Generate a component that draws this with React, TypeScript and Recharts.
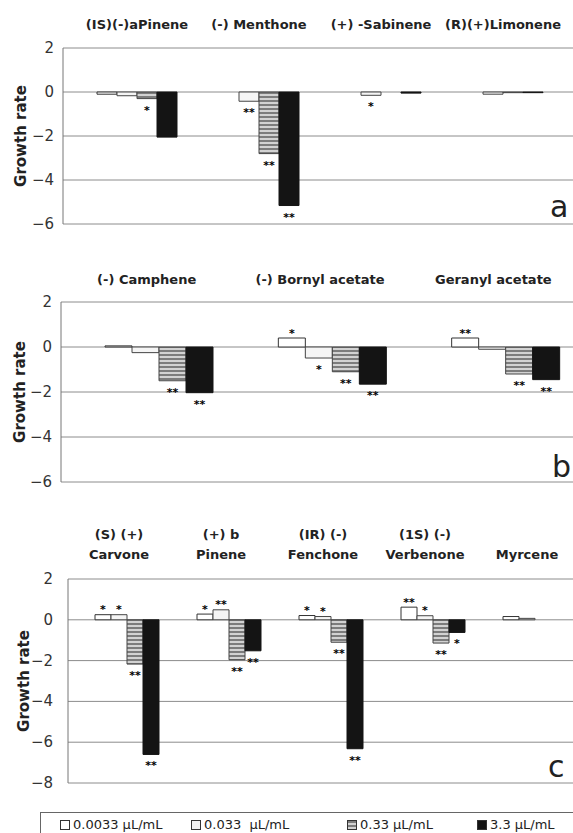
import React from 'react';
import { BarChart, Bar, XAxis, YAxis, CartesianGrid, LabelList } from 'recharts';

const seriesKeys = ['c1', 'c2', 'c3', 'c4'];
const seriesNames = ['0.0033 µL/mL', '0.033  µL/mL', '0.33 µL/mL', '3.3 µL/mL'];

// panel a
const catsA = ['(IS)(-)aPinene', '(-) Menthone', '(+) -Sabinene', '(R)(+)Limonene'];
const valsA1 = [-0.1, 0, 0, 0];
const valsA2 = [-0.17, -0.42, -0.15, -0.1];
const valsA3 = [-0.3, -2.8, 0, -0.03];
const valsA4 = [-2.05, -5.16, -0.05, -0.03];
const starsA1 = ['', '', '', ''];
const starsA2 = ['', '**', '*', ''];
const starsA3 = ['*', '**', '', ''];
const starsA4 = ['', '**', '', ''];

// panel b
const catsB = ['(-) Camphene', '(-) Bornyl acetate', 'Geranyl acetate'];
const valsB1 = [0.05, 0.4, 0.4];
const valsB2 = [-0.25, -0.49, -0.1];
const valsB3 = [-1.5, -1.1, -1.2];
const valsB4 = [-2.03, -1.65, -1.45];
const starsB1 = ['', '*', '**'];
const starsB2 = ['', '*', ''];
const starsB3 = ['**', '**', '**'];
const starsB4 = ['**', '**', '**'];

// panel c
const catsC = ['(S) (+)\nCarvone', '(+) b\nPinene', '(IR) (-)\nFenchone', '(1S) (-)\nVerbenone', '\nMyrcene'];
const valsC1 = [0.25, 0.28, 0.21, 0.62, 0.16];
const valsC2 = [0.25, 0.49, 0.16, 0.2, 0.07];
const valsC3 = [-2.17, -1.96, -1.1, -1.14, 0];
const valsC4 = [-6.6, -1.52, -6.32, -0.62, 0];
const starsC1 = ['*', '*', '*', '**', ''];
const starsC2 = ['*', '**', '*', '*', ''];
const starsC3 = ['**', '**', '**', '**', ''];
const starsC4 = ['**', '**', '**', '*', ''];

const ticksAB = [-6, -4, -2, 0, 2];
const ticksC = [-8, -6, -4, -2, 0, 2];

const fills = ['#ffffff', '#f5f5f5', 'stripes', '#141414'];
const strokes = ['#333', '#444', '#444', '#141414'];

const buildRows = (cats: string[], vals: number[][], stars: string[][]) =>
  cats.map((name, i) => {
    const row: any = { name };
    seriesKeys.forEach((k, j) => {
      row[k] = vals[j][i];
      row['s' + k] = stars[j][i];
    });
    return row;
  });

const StarLabel = (props: any) => {
  const vb = props.viewBox ?? props;
  const raw = String(props.value ?? '');
  if (!raw) return null;
  const [txt, dir] = raw.split('|');
  const top = Math.min(vb.y, vb.y + vb.height);
  const bottom = Math.max(vb.y, vb.y + vb.height);
  const y = dir === 'u' ? top - 1.5 : bottom + 15;
  return (
    <text x={vb.x + vb.width / 2} y={y} textAnchor="middle" fontSize={11} fontWeight="bold" fill="#000">
      {txt}
    </text>
  );
};

const YTick = (t: any) => (
  <text x={t.x} y={t.y + 5} textAnchor="end" fontSize={15} fill="#333">
    {t.payload.value < 0 ? '\u2212' + Math.abs(t.payload.value) : String(t.payload.value)}
  </text>
);

type PanelProps = {
  rows: any[];
  domain: [number, number];
  ticks: number[];
  top: number;
  height: number;
  marginTop: number;
  marginLeft: number;
  axisHeight: number;
  pad: { left: number; right: number };
  barSize: number;
  labelOffsets: number[];
  labelDx: number;
  tickMargin: number;
  patternId: string;
};

const Panel = (p: PanelProps) => {
  const CatTick = (t: any) => {
    const lines = String(t.payload.value).split('\n');
    return (
      <g>
        {lines.map((ln, i) => (
          <text key={i} x={t.x + p.labelDx} y={t.y + p.labelOffsets[i]} textAnchor="middle"
            dominantBaseline="central" fontSize={13} fontWeight="bold" fill="#222">
            {ln}
          </text>
        ))}
      </g>
    );
  };
  return (
    <div style={{ position: 'absolute', left: 0, top: p.top }}>
      <BarChart width={600} height={p.height} data={p.rows} barGap={0} barCategoryGap={0}
        margin={{ top: p.marginTop, right: 0, bottom: 10, left: p.marginLeft }}>
        <defs>
          <pattern id={p.patternId} width="4" height="4" patternUnits="userSpaceOnUse">
            <rect width="4" height="4" fill="#d2d2d2" />
            <rect width="4" height="2" fill="#7c7c7c" />
          </pattern>
        </defs>
        <CartesianGrid horizontal vertical={false} stroke="#8c8c8c" />
        <XAxis dataKey="name" orientation="top" type="category" height={p.axisHeight} padding={p.pad}
          axisLine={false} tickLine={false} tickSize={0} tickMargin={0} interval={0} tick={CatTick} />
        <YAxis type="number" domain={p.domain} ticks={p.ticks} interval={0} width={50}
          axisLine={{ stroke: '#777' }} tickLine={false} tickMargin={p.tickMargin} tick={YTick} />
        {seriesKeys.map((k, j) => (
          <Bar key={k} dataKey={k} name={seriesNames[j]} barSize={p.barSize}
            fill={fills[j] === 'stripes' ? `url(#${p.patternId})` : fills[j]}
            stroke={strokes[j]} strokeWidth={1} isAnimationActive={false}>
            <LabelList
              dataKey={(d: any) => (d['s' + k] ? `${d['s' + k]}|${d[k] >= 0 ? 'u' : 'd'}` : '')}
              content={StarLabel} />
          </Bar>
        ))}
      </BarChart>
    </div>
  );
};

const rowsA = buildRows(catsA, [valsA1, valsA2, valsA3, valsA4], [starsA1, starsA2, starsA3, starsA4]);
const rowsB = buildRows(catsB, [valsB1, valsB2, valsB3, valsB4], [starsB1, starsB2, starsB3, starsB4]);
const rowsC = buildRows(catsC, [valsC1, valsC2, valsC3, valsC4], [starsC1, starsC2, starsC3, starsC4]);

const legendX = [19, 150, 306, 436];
const iconBg = [
  '#ffffff',
  '#f0f0f0',
  'repeating-linear-gradient(180deg, #7c7c7c 0px, #7c7c7c 2px, #d2d2d2 2px, #d2d2d2 4px)',
  '#141414',
];

// axis title centres (x, y) and panel letters (x, baseline)
const titles = [[21, 136], [20, 392], [24, 681]];
const letters = [['a', 550, 217], ['b', 552, 477], ['c', 548, 777]];

export default function App() {
  return (
    <div style={{ position: 'absolute', left: 0, top: 0, width: 573, height: 833, overflow: 'hidden',
      background: '#fff', fontFamily: '"DejaVu Sans", sans-serif' }}>
      <Panel rows={rowsA} domain={[-6, 2]} ticks={ticksAB} top={0} height={234} marginTop={8}
        marginLeft={13} axisHeight={40} pad={{ left: 13, right: 36 }} barSize={20}
        labelOffsets={[-24]} labelDx={0} tickMargin={3} patternId="stripeA" />
      <Panel rows={rowsB} domain={[-6, 2]} ticks={ticksAB} top={250} height={242} marginTop={12}
        marginLeft={11} axisHeight={40} pad={{ left: 11, right: 8 }} barSize={27}
        labelOffsets={[-23]} labelDx={-12} tickMargin={3} patternId="stripeB" />
      <Panel rows={rowsC} domain={[-8, 2]} ticks={ticksC} top={515} height={278} marginTop={14}
        marginLeft={18} axisHeight={50} pad={{ left: 8, right: 14 }} barSize={16}
        labelOffsets={[-45, -25]} labelDx={-8} tickMargin={9} patternId="stripeC" />

      <svg width={573} height={833} style={{ position: 'absolute', left: 0, top: 0, pointerEvents: 'none' }}>
        {titles.map(([x, y], i) => (
          <text key={i} x={x} y={y} transform={`rotate(-90 ${x} ${y})`} textAnchor="middle"
            dominantBaseline="central" fontSize={15} fontWeight="bold" fill="#222">
            Growth rate
          </text>
        ))}
        {letters.map(([t, x, y]) => (
          <text key={t as string} x={x as number} y={y as number} fontSize={30} fill="#222">{t}</text>
        ))}
      </svg>

      <div style={{ position: 'absolute', left: 40, top: 812, width: 600, height: 40,
        border: '1px solid #666', background: '#fff' }}>
        {seriesNames.map((n, j) => (
          <div key={n} style={{ position: 'absolute', left: legendX[j], top: 4, display: 'flex',
            alignItems: 'center', fontSize: 13, color: '#222', whiteSpace: 'pre' }}>
            <span style={{ display: 'inline-block', width: 8, height: 8, border: '1px solid #333',
              background: iconBg[j], marginRight: 3 }} />
            {n}
          </div>
        ))}
      </div>
    </div>
  );
}
